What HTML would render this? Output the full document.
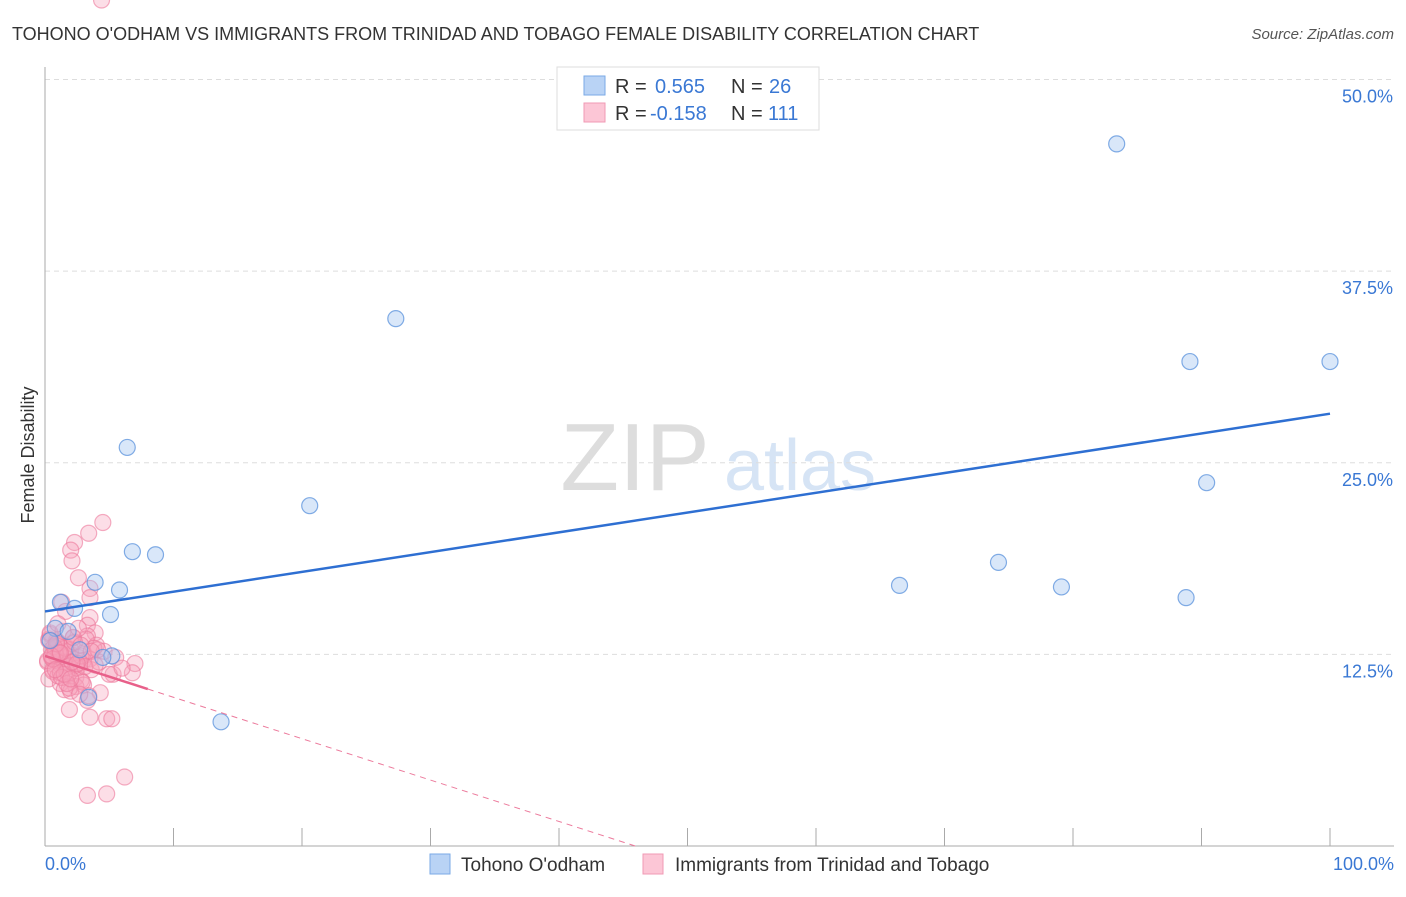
<!DOCTYPE html>
<html><head><meta charset="utf-8"><style>
body{margin:0;background:#fff;font-family:"Liberation Sans",sans-serif;}
svg text{font-family:"Liberation Sans",sans-serif;}
</style></head><body>
<svg id="chart" width="1406" height="892" xmlns="http://www.w3.org/2000/svg">
<text x="12" y="40" font-size="18" fill="#333">TOHONO O'ODHAM VS IMMIGRANTS FROM TRINIDAD AND TOBAGO FEMALE DISABILITY CORRELATION CHART</text>
<text x="1394" y="39" font-size="15" fill="#555" font-style="italic" text-anchor="end">Source: ZipAtlas.com</text>
<g>
<text x="635" y="490" font-size="96" fill="#ddd" font-family="Liberation Serif" text-anchor="middle">ZIP</text>
<text x="800" y="490" font-size="72" fill="#d6e4f5" text-anchor="middle">atlas</text>
</g>
<g id="grid"></g>
<g id="axes"></g>
<g id="marks"></g>
<text transform="translate(34,455) rotate(-90)" font-size="18" fill="#333" text-anchor="middle">Female Disability</text>
<g>
<rect x="557" y="67" width="262" height="63" fill="#fff" stroke="#ddd"/>
<rect x="584" y="76" width="21" height="19" fill="#b9d3f5" stroke="#7aa9e6"/>
<rect x="584" y="103" width="21" height="19" fill="#fcc6d6" stroke="#f09ab4"/>
<text x="615" y="93" font-size="20" fill="#333">R = </text><text x="655" y="93" font-size="20" fill="#3a78d4">0.565</text>
<text x="731" y="93" font-size="20" fill="#333">N = </text><text x="769" y="93" font-size="20" fill="#3a78d4">26</text>
<text x="615" y="120" font-size="20" fill="#333">R = </text><text x="650" y="120" font-size="20" fill="#3a78d4">-0.158</text>
<text x="731" y="120" font-size="20" fill="#333">N = </text><text x="768" y="120" font-size="20" fill="#3a78d4">111</text>
</g>
<g>
<rect x="430" y="854" width="20" height="20" fill="#b9d3f5" stroke="#7aa9e6"/>
<text x="461" y="871" font-size="19" fill="#333">Tohono O'odham</text>
<rect x="643" y="854" width="20" height="20" fill="#fcc6d6" stroke="#f09ab4"/>
<text x="675" y="871" font-size="19" fill="#333">Immigrants from Trinidad and Tobago</text>
</g>
</svg>
<script>
const yTicks=[12.5,25,37.5,50];
const yTickLabels=["12.5%","25.0%","37.5%","50.0%"];
const xTickLabels=["0.0%","100.0%"];
const blueX=[83.4,27.3,89.1,100,6.4,20.6,90.4,6.8,8.6,66.5,74.2,79.1,88.8,3.9,5.8,1.2,2.3,5.1,0.8,1.8,2.7,5.2,4.5,3.4,13.7,0.4];
const blueY=[45.8,34.4,31.6,31.6,26.0,22.2,23.7,19.2,19.0,17.0,18.5,16.9,16.2,17.2,16.7,15.9,15.5,15.1,14.2,14.0,12.8,12.4,12.3,9.7,8.1,13.4];
const pinkX=[4.5,3.4,2.3,2.0,2.1,2.6,3.5,3.5,1.3,1.6,3.5,3.3,3.9,7.0,6.8,5.3,4.3,3.3,1.9,3.5,4.8,5.2,6.2,3.3,4.8,
0.3,0.5,0.7,0.9,1.1,1.3,1.5,0.2,0.4,0.6,0.8,1.0,1.2,1.4,1.6,1.8,2.0,2.2,2.4,2.6,2.8,3.0,0.3,0.6,0.9,1.2,1.5,1.8,2.1,2.4,2.7,3.0,3.3,0.5,1.0,1.5,2.0,2.5,3.0,3.5,4.0,0.4,0.8,1.2,1.6,2.0,2.4,2.8,3.2,3.6,4.2,4.6,5.0,5.5,6.0,0.2,0.7,1.1,1.7,2.3,2.9,3.4,3.8,1.4,2.2,0.6,1.9,2.6,3.1,4.1,0.9,1.3,2.5,1.0,0.5,1.7,2.8,3.6,0.3,1.5,2.1,0.8,1.2,2.0,2.7,3.9,4.4];
const pinkY=[21.1,20.4,19.8,19.3,18.6,17.5,16.8,16.2,15.9,15.3,14.9,14.4,13.9,11.9,11.3,11.2,10.0,9.5,8.9,8.4,8.3,8.3,4.5,3.3,3.4,
13.5,12.8,12.2,13.1,12.6,11.9,12.4,12.0,13.8,11.5,12.9,13.3,11.8,12.7,13.0,11.2,12.5,13.6,11.0,12.3,10.8,12.1,10.9,11.4,13.4,10.6,12.0,11.7,13.2,10.4,11.9,12.6,13.7,12.3,11.1,10.2,12.8,11.6,10.5,12.2,13.1,13.9,12.5,11.3,12.9,10.1,11.8,12.4,13.5,11.5,12.0,12.7,11.2,12.3,11.6,12.1,13.0,12.6,11.4,13.3,10.7,9.8,12.9,14.0,13.6,12.2,10.3,14.2,11.7,12.8,13.2,11.0,11.9,14.5,12.4,10.6,13.1,12.7,13.4,11.2,12.0,11.5,12.6,10.9,9.9,11.8];
const blueLine=[15.3,28.2];
const pinkLine=[12.4,-0.27];
const NS="http://www.w3.org/2000/svg";
const X=v=>45+v*12.85, Y=v=>846-v*15.33;
function mk(t,a,p){const e=document.createElementNS(NS,t);for(const k in a)e.setAttribute(k,a[k]);p.appendChild(e);return e;}
const grid=document.getElementById('grid'),axes=document.getElementById('axes'),marks=document.getElementById('marks');
yTicks.forEach((t,i)=>{
 const l=mk('line',{x1:45,x2:1394,y1:Y(t),y2:Y(t),stroke:'#ddd','stroke-dasharray':'5,4'},grid);
 
 
 const tx=mk('text',{x:1393,y:Y(t)+23,'font-size':18,fill:'#3a78d4','text-anchor':'end'},axes);
 tx.textContent=yTickLabels[i];
 
 
});
let a=mk('line',{x1:45,x2:45,y1:67,y2:846,stroke:'#aaa'},axes);


a=mk('line',{x1:45,x2:1394,y1:846,y2:846,stroke:'#aaa'},axes);


for(let i=1;i<=10;i++){const t=mk('line',{x1:X(i*10),x2:X(i*10),y1:828,y2:846,stroke:'#aaa'},axes);
 
 }
[[0,45,'start'],[1,1394,'end']].forEach(([i,x,an])=>{const t=mk('text',{x:x,y:870,'font-size':18,fill:'#3a78d4','text-anchor':an},axes);t.textContent=xTickLabels[i];
 
 });
pinkX.forEach((x,i)=>{const c=mk('circle',{cx:X(x),cy:Y(pinkY[i]),r:8,fill:'rgba(247,160,185,0.35)',stroke:'rgba(236,120,155,0.6)','stroke-width':1.2},marks);
 
 });
blueX.forEach((x,i)=>{const c=mk('circle',{cx:X(x),cy:Y(blueY[i]),r:8,fill:'rgba(160,195,240,0.4)',stroke:'rgba(90,145,220,0.75)','stroke-width':1.2},marks);
 
 });
let ln=mk('line',{x1:X(0),y1:Y(blueLine[0]),x2:X(100),y2:Y(blueLine[1]),stroke:'#2e6fd2','stroke-width':2.5},marks);


const pe=-pinkLine[0]/pinkLine[1];
ln=mk('line',{x1:X(8),y1:Y(pinkLine[0]+pinkLine[1]*8),x2:X(pe),y2:Y(0),stroke:'#ec7a9c','stroke-width':1,'stroke-dasharray':'6,5'},marks);


ln=mk('line',{x1:X(0),y1:Y(pinkLine[0]),x2:X(8),y2:Y(pinkLine[0]+pinkLine[1]*8),stroke:'#e8608a','stroke-width':2.5},marks);


</script>
</body></html>
